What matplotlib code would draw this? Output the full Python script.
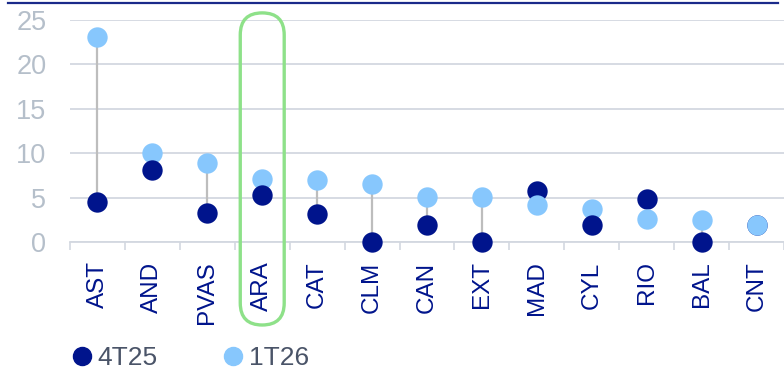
import matplotlib
matplotlib.use("Agg")
import matplotlib.pyplot as plt
from matplotlib.lines import Line2D
from matplotlib.patches import FancyBboxPatch
from matplotlib.transforms import IdentityTransform

categories = ["AST", "AND", "PVAS", "ARA", "CAT", "CLM", "CAN", "EXT", "MAD", "CYL", "RIO", "BAL", "CNT"]
s_4t25 = [4.5, 8.1, 3.3, 5.3, 3.1, 0.0, 1.9, 0.0, 5.7, 1.9, 4.8, 0.0, 1.9]
s_1t26 = [23.1, 10.0, 8.9, 7.1, 7.0, 6.5, 5.1, 5.1, 4.2, 3.7, 2.6, 2.5, 1.9]
series_names = ["4T25", "1T26"]
yticks = [0, 5, 10, 15, 20, 25]
highlight = "ARA"

DARK = "#00148C"
LIGHT = "#87C7FD"
GRID = "#D3D8E0"
TICKC = "#B5BFCA"
FONT = "Liberation Sans"

plt.rcParams["font.family"] = [FONT, "DejaVu Sans"]

fig = plt.figure(figsize=(7.84, 3.70), dpi=100)
ax = fig.add_axes([70/784, 128/370, 714/784, 222/370])

x = list(range(len(categories)))
for i in x:
    a, b = s_4t25[i], s_1t26[i]
    ax.plot([i, i], [a, b], color="#BDBDBD", lw=1.6, zorder=2, solid_capstyle="butt")
    z_dark = 4 if a < b else 3
    z_light = 7 - z_dark
    ax.scatter([i], [a], s=215, color=DARK, zorder=z_dark, linewidths=0, clip_on=False)
    ax.scatter([i], [b], s=215, color=LIGHT, zorder=z_light, linewidths=0, clip_on=False)

ax.set_xlim(-0.5, len(categories) - 0.5)
ax.set_ylim(0, 25)
ax.set_yticks(yticks)
ax.yaxis.grid(True, color=GRID, lw=1.3)
ax.set_axisbelow(True)
for sp in ["top", "right", "left"]:
    ax.spines[sp].set_visible(False)
ax.spines["bottom"].set_color(GRID)
ax.spines["bottom"].set_linewidth(1.3)

ax.set_xticks(x)
ax.set_xticklabels(categories, rotation=90, color=DARK, fontsize=17.5)
ax.tick_params(axis="x", which="major", length=0, pad=14)
ax.set_xticks([i - 0.5 for i in range(len(categories) + 1)], minor=True)
ax.tick_params(axis="x", which="minor", length=6, color=GRID, width=1.2)
ax.tick_params(axis="y", length=0, pad=17, labelcolor=TICKC, labelsize=19.5)

# legend
handles = [Line2D([], [], marker="o", ls="none", color=DARK, markersize=13),
           Line2D([], [], marker="o", ls="none", color=LIGHT, markersize=13)]
fig.legend(handles, series_names, loc="center left", bbox_to_anchor=(62/784, 1 - 358/370),
           ncol=2, frameon=False, handletextpad=-0.15, columnspacing=2.1,
           prop={"family": FONT, "size": 19}, labelcolor="#4A5468", handlelength=1.5,
           borderaxespad=0, borderpad=0)

# top rule
fig.add_artist(Line2D([8/784, 778/784], [1 - 3/370, 1 - 3/370], color="#1A2A8A", lw=1.6,
                      transform=fig.transFigure))

# highlight box around category
hi = categories.index(highlight)
fig.canvas.draw()
(x0, y0) = ax.transData.transform((hi - 0.4, 25.8))
(x1, y1) = ax.transData.transform((hi + 0.4, 0))
ybot = fig.bbox.height * (1 - 325/370)
w = x1 - x0
r = w / 2
box = FancyBboxPatch((x0 + r, ybot + r), w - 2*r, (y0 - ybot) - 2*r,
                     boxstyle=f"round,pad={r},rounding_size={r}",
                     transform=IdentityTransform(), fill=False, ec="#8EE189", lw=2.4, zorder=10)
fig.add_artist(box)

fig.savefig("out.png", dpi=100)
